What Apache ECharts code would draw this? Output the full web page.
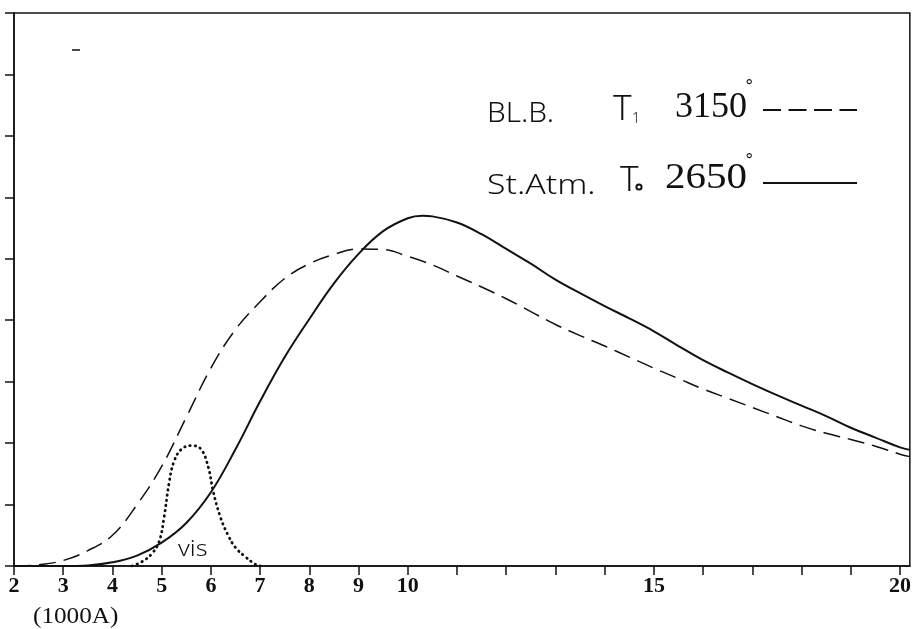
<!DOCTYPE html>
<html>
<head>
<meta charset="utf-8">
<script src="https://cdn.jsdelivr.net/npm/echarts@6/dist/echarts.min.js"></script>
<style>html,body{margin:0;padding:0;background:#fff}#c{width:914px;height:629px}</style>
</head>
<body>
<div id="c"></div>
<script>
// wavelength in units of 1000 Å
var stAtmX = [2, 3, 3.5, 4, 4.5, 5, 5.5, 6, 6.5, 7, 7.5, 8, 8.5, 9, 9.5, 10, 10.3, 10.5, 11, 11.5, 12, 12.5, 13, 13.5, 14, 14.5, 15, 15.5, 16, 16.5, 17, 17.5, 18, 18.5, 19, 19.5, 20, 20.2];
var stAtmY = [0, 0, 0.01, 0.06, 0.17, 0.38, 0.7, 1.2, 1.9, 2.68, 3.4, 4.02, 4.6, 5.08, 5.45, 5.66, 5.7, 5.69, 5.59, 5.4, 5.16, 4.92, 4.66, 4.44, 4.23, 4.03, 3.82, 3.58, 3.35, 3.15, 2.96, 2.78, 2.61, 2.44, 2.25, 2.09, 1.93, 1.89];

var blbX = [2, 2.5, 3, 3.5, 4, 4.5, 5, 5.5, 6, 6.5, 7, 7.5, 8, 8.5, 9, 9.5, 10, 10.5, 11, 11.5, 12, 12.5, 13, 13.5, 14, 14.5, 15, 15.5, 16, 16.5, 17, 17.5, 18, 18.5, 19, 19.5, 20, 20.2];
var blbY = [0, 0.02, 0.09, 0.25, 0.5, 1.0, 1.62, 2.42, 3.22, 3.85, 4.3, 4.68, 4.92, 5.07, 5.16, 5.15, 5.04, 4.9, 4.72, 4.54, 4.35, 4.14, 3.93, 3.75, 3.58, 3.4, 3.22, 3.05, 2.88, 2.73, 2.58, 2.43, 2.28, 2.16, 2.06, 1.95, 1.82, 1.78];

var visX = [4.4, 4.6, 4.8, 4.95, 5.05, 5.15, 5.25, 5.4, 5.6, 5.8, 5.95, 6.05, 6.2, 6.35, 6.5, 6.7, 6.9, 7.0];
var visY = [0, 0.07, 0.2, 0.4, 0.8, 1.35, 1.7, 1.9, 1.96, 1.9, 1.6, 1.2, 0.78, 0.5, 0.3, 0.15, 0.03, 0];

var xTickLabels = ['2', '3', '4', '5', '6', '7', '8', '9', '10', '15', '20'];

function pairs(xs, ys) { return xs.map(function (x, i) { return [x, ys[i]]; }); }

var chart = echarts.init(document.getElementById('c'), null, { renderer: 'canvas' });
var ink = '#111';
function txt(x, y, text, font, sx) {
  return { type: 'text', x: x, y: y, scaleX: sx || 1, style: { text: text, font: font, fill: ink, align: 'left', verticalAlign: 'middle' } };
}
chart.setOption({
  backgroundColor: '#fff',
  animation: false,
  grid: { left: 14, right: 2, top: 13, bottom: 63, show: true, borderColor: ink, borderWidth: 1.5 },
  xAxis: {
    type: 'value', min: 2, max: 20.2, interval: 1,
    axisLine: { show: true, lineStyle: { color: ink, width: 1.5 } },
    axisTick: { show: true, length: 9, inside: false, lineStyle: { color: ink, width: 1.5 } },
    splitLine: { show: false },
    axisLabel: {
      margin: 9, color: ink, fontFamily: 'Liberation Serif', fontWeight: 'bold', fontSize: 22,
      showMaxLabel: false,
      formatter: function (v) { var s = String(Math.round(v)); return xTickLabels.indexOf(s) >= 0 && Math.abs(v - Math.round(v)) < 1e-6 ? s : ''; }
    }
  },
  yAxis: {
    type: 'value', min: 0, max: 9, interval: 1,
    axisLine: { show: true, lineStyle: { color: ink, width: 1.5 } },
    axisTick: { show: true, length: 9, inside: false, lineStyle: { color: ink, width: 1.5 } },
    splitLine: { show: false },
    axisLabel: { show: false }
  },
  series: [
    { name: 'St.Atm.', type: 'line', data: pairs(stAtmX, stAtmY), smooth: 0.4, showSymbol: false,
      lineStyle: { color: ink, width: 2 } },
    { name: 'BL.B.', type: 'line', data: pairs(blbX, blbY), smooth: 0.4, showSymbol: false,
      lineStyle: { color: ink, width: 1.5, type: [17, 8] } },
    { name: 'vis', type: 'line', data: pairs(visX, visY), smooth: 0.4, showSymbol: false,
      lineStyle: { color: ink, width: 2.8, type: [0.5, 4.8], cap: 'round' } }
  ],
  graphic: [
    txt(487, 114, 'BL.B.', '300 27px "Noto Sans"', 1.1),
    txt(613, 110, 'T', '300 35px "Noto Sans"', 1),
    txt(632, 119, '1', '300 14px "Noto Sans"', 1),
    txt(675, 108, '3150', '36px "Liberation Serif"', 1),
    txt(745, 88, '°', '17px "DejaVu Sans"', 1),
    { type: 'line', shape: { x1: 763, y1: 110, x2: 857, y2: 110 }, style: { stroke: ink, lineWidth: 1.8, lineDash: [18, 7.5] } },

    txt(487, 186, 'St.Atm.', '300 27px "Noto Sans"', 1.25),
    txt(620, 181, 'T', '300 35px "Noto Sans"', 1),
    { type: 'circle', shape: { cx: 639, cy: 187, r: 2.6 }, style: { fill: 'none', stroke: ink, lineWidth: 2 } },
    txt(665, 179, '2650', '36px "Liberation Serif"', 1.14),
    txt(745, 162, '°', '17px "DejaVu Sans"', 1),
    { type: 'line', shape: { x1: 763, y1: 183, x2: 857, y2: 183 }, style: { stroke: ink, lineWidth: 1.8 } },

    { type: 'line', shape: { x1: 72, y1: 50, x2: 80, y2: 50 }, style: { stroke: ink, lineWidth: 1.5 } },
    txt(178, 550, 'vis', '300 21px "Noto Sans"', 1.2),
    txt(33, 617, '(1000A)', '24px "Liberation Serif"', 1.05)
  ]
});
</script>
</body>
</html>
